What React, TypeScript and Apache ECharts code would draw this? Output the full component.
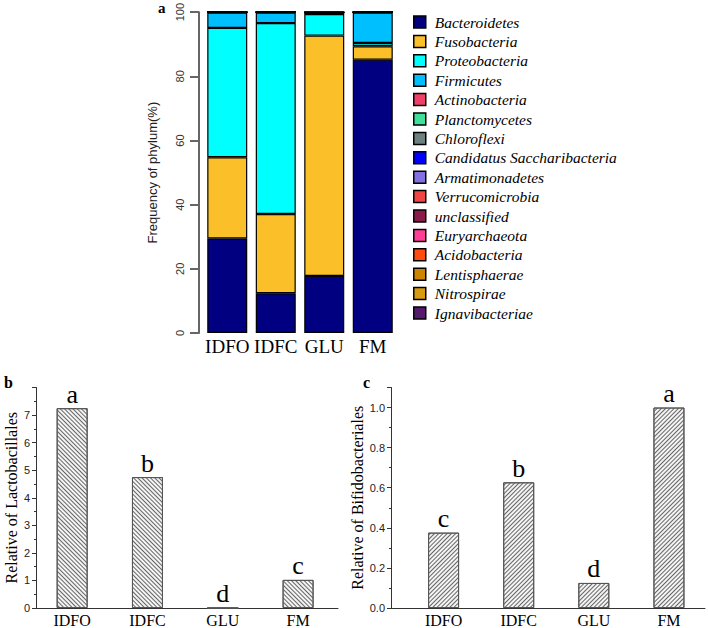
import React, { useEffect, useRef } from "react";
import * as echarts from "echarts";

const categories = ["IDFO", "IDFC", "GLU", "FM"];

const phyla = [
  "Bacteroidetes",
  "Fusobacteria",
  "Proteobacteria",
  "Firmicutes",
  "Actinobacteria",
  "Planctomycetes",
  "Chloroflexi",
  "Candidatus Saccharibacteria",
  "Armatimonadetes",
  "Verrucomicrobia",
  "unclassified",
  "Euryarchaeota",
  "Acidobacteria",
  "Lentisphaerae",
  "Nitrospirae",
  "Ignavibacteriae",
];

const phylumColors = [
  "#000080", "#FBBF2A", "#00FFFF", "#00BFFF", "#F0406A", "#40E09A",
  "#6F8080", "#0000FF", "#8470E0", "#F04545", "#8B1A4A", "#FF3E96",
  "#FF4A10", "#CD8500", "#D89A10", "#551A6B",
];

const bacteroidetes = [29.5, 12.4, 17.8, 85.2];
const fusobacteria = [25.3, 24.7, 74.9, 4.2];
const proteobacteria = [40.3, 59.5, 6.7, 1.0];
const firmicutes = [4.8, 3.3, 0.4, 9.5];
const actinobacteria = [0.03, 0.03, 0.06, 0.03];
const planctomycetes = [0.02, 0.01, 0.03, 0.01];
const chloroflexi = [0.01, 0.01, 0.02, 0.01];
const candidatus = [0.01, 0.01, 0.02, 0.01];
const armatimonadetes = [0.01, 0.01, 0.01, 0.01];
const verrucomicrobia = [0.01, 0.01, 0.02, 0.01];
const unclassified = [0.01, 0.01, 0.02, 0.01];
const euryarchaeota = [0.0, 0.01, 0.01, 0.01];
const acidobacteria = [0.0, 0.0, 0.01, 0.0];
const lentisphaerae = [0.0, 0.0, 0.01, 0.0];
const nitrospirae = [0.0, 0.0, 0.0, 0.0];
const ignavibacteriae = [0.0, 0.0, 0.0, 0.0];

const phylumValues = [
  bacteroidetes, fusobacteria, proteobacteria, firmicutes, actinobacteria,
  planctomycetes, chloroflexi, candidatus, armatimonadetes, verrucomicrobia,
  unclassified, euryarchaeota, acidobacteria, lentisphaerae, nitrospirae,
  ignavibacteriae,
];

const lactobacillales = [7.25, 4.75, 0, 1.02];
const lactoLetters = ["a", "b", "d", "c"];
const bifidobacteriales = [0.376, 0.627, 0.125, 1.0];
const bifidoLetters = ["c", "b", "d", "a"];

const SERIF = "'Liberation Serif', 'Times New Roman', serif";
const SANS = "'Liberation Sans', Arial, sans-serif";

export default function App() {
  const ref = useRef<HTMLDivElement>(null);
  useEffect(() => {
    if (!ref.current) return;
    const chart = echarts.init(ref.current, undefined, { renderer: "svg" });

    const stackSeries = phyla.map((name, i) => ({
      name,
      type: "bar",
      stack: "phylum",
      xAxisIndex: 0,
      yAxisIndex: 0,
      barWidth: 40,
      data: phylumValues[i],
      itemStyle: { color: phylumColors[i], borderColor: "#000", borderWidth: 1.2 },
    }));

    const bottomXAxis = (gridIndex: number, min: number, max: number) => ({
      type: "value",
      gridIndex,
      min,
      max,
      axisLine: { show: true, onZero: false, lineStyle: { color: "#333", width: 1 } },
      axisTick: { show: false },
      splitLine: { show: false },
      axisLabel: {
        customValues: [0, 1, 2, 3],
        formatter: (v: number) => categories[Math.round(v)] ?? "",
        fontFamily: SERIF,
        fontSize: 16,
        color: "#000",
        margin: 4,
      },
    });

    const bottomYAxis = (
      gridIndex: number,
      max: number,
      interval: number,
      name: string,
      fmt: (v: number) => string
    ) => ({
      type: "value",
      gridIndex,
      min: 0,
      max,
      interval,
      name,
      nameLocation: "middle",
      nameGap: 17,
      nameRotate: 90,
      nameTextStyle: { fontFamily: SERIF, fontSize: 16, color: "#000" },
      axisLine: { show: true, onZero: false, lineStyle: { color: "#333", width: 1 } },
      axisTick: { show: true, inside: false, length: 4, lineStyle: { color: "#333" } },
      minorTick: { show: true, splitNumber: 2, length: 2, lineStyle: { color: "#333" } },
      splitLine: { show: false },
      axisLabel: {
        showMaxLabel: false,
        formatter: fmt,
        fontFamily: SANS,
        fontSize: 11,
        color: "#222",
        margin: 6,
      },
    });

    const hatchSeries = (
      idx: number,
      values: number[],
      letters: string[],
      rotation: number
    ) => ({
      type: "bar",
      xAxisIndex: idx,
      yAxisIndex: idx,
      barWidth: 31,
      data: values.map((v, i) => [i, v]),
      itemStyle: {
        color: "#f4f4f4",
        borderColor: "#555",
        borderWidth: 1,
        decal: {
          symbol: "rect",
          symbolSize: 1,
          dashArrayX: [1, 0],
          dashArrayY: [1, 2],
          rotation,
          color: "#666",
        },
      },
      label: {
        show: true,
        position: "top",
        distance: 1,
        formatter: (p: any) => letters[p.dataIndex],
        fontFamily: SERIF,
        fontSize: 26,
        color: "#000",
      },
    });

    chart.setOption({
      animation: false,
      backgroundColor: "#fff",
      aria: { enabled: false },
      grid: [
        { left: 203, top: 8, width: 194, height: 325 },
        { left: 36, top: 387.5, width: 302, height: 223.2 },
        { left: 391, top: 387.5, width: 314, height: 223.2 },
      ],
      legend: {
        orient: "vertical",
        left: 408,
        top: 9,
        itemWidth: 12,
        itemHeight: 12,
        itemGap: 3.4,
        icon: "rect",
        data: phyla,
        itemStyle: { borderColor: "#000", borderWidth: 1.5 },
        textStyle: {
          fontFamily: SERIF,
          fontStyle: "italic",
          fontSize: 15.5,
          lineHeight: 16,
          color: "#000",
          padding: [0, 0, 0, 4],
        },
        selectedMode: false,
      },
      xAxis: [
        {
          type: "category",
          gridIndex: 0,
          data: categories,
          axisLine: { show: false },
          axisTick: { show: false },
          axisLabel: { interval: 0, fontFamily: SERIF, fontSize: 19, color: "#000", margin: 4 },
        },
        bottomXAxis(1, -0.48, 3.53),
        bottomXAxis(2, -0.7, 3.48),
      ],
      yAxis: [
        {
          type: "value",
          gridIndex: 0,
          min: 0,
          max: 100,
          interval: 20,
          offset: 4,
          name: "Frequency of phylum(%)",
          nameLocation: "middle",
          nameGap: 40,
          nameRotate: 90,
          nameTextStyle: { fontFamily: SANS, fontSize: 13, color: "#222" },
          axisLine: { show: true, onZero: false, lineStyle: { color: "#666", width: 2 } },
          axisTick: { show: true, length: 9, lineStyle: { color: "#666", width: 2 } },
          splitLine: { show: false },
          axisLabel: { rotate: 90, fontFamily: SANS, fontSize: 11, color: "#333", margin: 14 },
        },
        bottomYAxis(1, 8, 1, "Relative of Lactobacillales", (v) => String(v)),
        bottomYAxis(2, 1.1, 0.2, "Relative of Bifidobacteriales", (v) => v.toFixed(1)),
      ],
      series: [
        ...stackSeries,
        hatchSeries(1, lactobacillales, lactoLetters, Math.PI / 4),
        hatchSeries(2, bifidobacteriales, bifidoLetters, -Math.PI / 4),
      ],
      graphic: [
        { type: "text", left: 158, top: 0, style: { text: "a", font: `bold 15px ${SERIF}`, fill: "#000" } },
        { type: "text", left: 4, top: 374, style: { text: "b", font: `bold 16px ${SERIF}`, fill: "#000" } },
        { type: "text", left: 363, top: 374, style: { text: "c", font: `bold 16px ${SERIF}`, fill: "#000" } },
      ],
    });
    return () => chart.dispose();
  }, []);
  return (
    <div
      ref={ref}
      style={{ position: "fixed", left: 0, top: 0, width: 708, height: 628 }}
    />
  );
}
